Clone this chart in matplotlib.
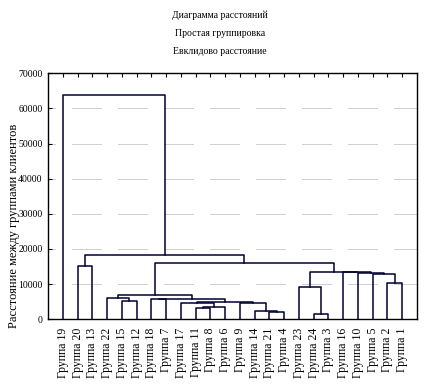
import numpy as np
import matplotlib
matplotlib.use('Agg')
import matplotlib.pyplot as plt

plt.rcParams['font.family'] = ['Liberation Serif', 'DejaVu Serif']
plt.rcParams['lines.scale_dashes'] = False

# leaves in the order they are drawn
labels = ['Группа 19', 'Группа 20', 'Группа 13', 'Группа 22', 'Группа 15',
          'Группа 12', 'Группа 18', 'Группа 7', 'Группа 17', 'Группа 11',
          'Группа 8', 'Группа 6', 'Группа 9', 'Группа 14', 'Группа 21',
          'Группа 4', 'Группа 23', 'Группа 24', 'Группа 3', 'Группа 16',
          'Группа 10', 'Группа 5', 'Группа 2', 'Группа 1']

# merges (single linkage): ids < 24 are leaves, ids >= 24 are earlier merges
left = [17, 14, 13, 9, 27, 8, 12, 29, 4, 6, 33, 3, 35, 16, 22, 21, 20, 19,
        37, 1, 36, 43, 0]
right = [18, 15, 25, 10, 11, 28, 26, 30, 5, 7, 31, 32, 34, 24, 23, 38, 39,
         40, 41, 2, 42, 44, 45]
dist = [1420, 2160, 2360, 3220, 3360, 4550, 4750, 4840, 5120, 5690, 5780,
        5980, 6830, 9100, 10240, 12800, 13090, 13460, 13550, 15170, 15930,
        18200, 63800]

yticks = [0, 10000, 20000, 30000, 40000, 50000, 60000, 70000]
title_lines = ['Диаграмма расстояний', 'Простая группировка',
               'Евклидово расстояние']

fig = plt.figure(figsize=(4.31, 3.92), dpi=100)
ax = fig.add_axes([0.1114, 0.1855, 0.8561, 0.6276])

n = len(labels)
xs = list(np.arange(1, n + 1, dtype=float))
hs = [0.0] * n
for a, b, d in zip(left, right, dist):
    xa, xb = xs[a], xs[b]
    ax.plot([xa, xa, xb, xb], [hs[a], d, d, hs[b]], color='#000033', lw=1.1)
    xs.append((xa + xb) / 2)
    hs.append(d)

# dotted grid in broken segments, like the original
px = 0.72
dash = [1 * px, 1 * px] * 14 + [1 * px, 17 * px]
for y in yticks[1:-1]:
    ax.axhline(y, color='#a0a0a0', lw=0.7, linestyle=(22 * px, dash), zorder=0)

ax.set_xlim(0, n + 1)
ax.set_ylim(0, 70000)
ax.set_yticks(yticks)
ax.set_yticklabels([str(v) for v in yticks], fontsize=7)
ax.set_xticks(np.arange(1, n + 1))
ax.set_xticklabels(labels, rotation=90, fontsize=8.5, va='top')
ax.tick_params(axis='x', bottom=False, top=True, direction='in', length=3,
               pad=6)
ax.tick_params(axis='y', direction='in', length=3, pad=4)
for s in ax.spines.values():
    s.set_linewidth(1.0)

ax.set_ylabel('Расстояние между группами клиентов', fontsize=9)
ax.yaxis.set_label_coords(-0.076, 0.38)

for i, t in enumerate(title_lines):
    fig.text(220 / 431, 1 - (15 + 18.5 * i) / 392, t, ha='center',
             va='center', fontsize=7)

fig.savefig('out.png', dpi=100)
